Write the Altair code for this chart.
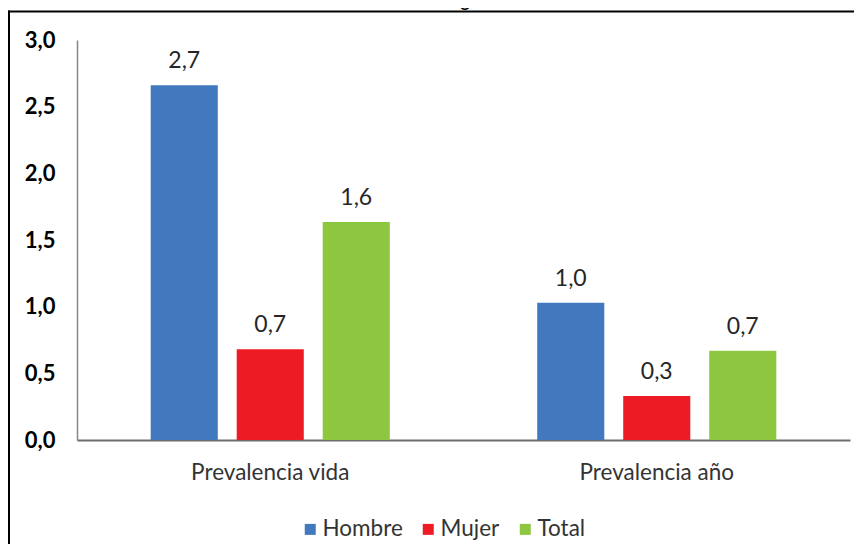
import altair as alt
import pandas as pd

categories = ["Prevalencia vida", "Prevalencia año"]
series = ["Hombre", "Mujer", "Total"]
hombre = [2.66, 1.03]
mujer = [0.68, 0.33]
total = [1.635, 0.67]
colors = ["#4178BE", "#ED1C24", "#8DC63F"]
y_ticks = [0.0, 0.5, 1.0, 1.5, 2.0, 2.5, 3.0]
title_text = "sintéticos, según sexo"

rows = []
for i, c in enumerate(categories):
    for s, vals in zip(series, [hombre, mujer, total]):
        v = vals[i]
        rows.append({"categoria": c, "sexo": s, "valor": v,
                     "etiqueta": f"{v:.1f}".replace(".", ",")})
df = pd.DataFrame(rows)

W, H = 773, 400
PAD = {"left": 69, "top": 32, "right": 4, "bottom": 104}
FONT = "Lato"

base = alt.Chart(df).encode(
    x=alt.X("categoria:N", sort=categories, title=None,
            scale=alt.Scale(paddingInner=0, paddingOuter=0),
            axis=alt.Axis(labelAngle=0, ticks=False, tickSize=0, labelPadding=21,
                          labelFontSize=22.5, labelFont=FONT, labelColor="#333333",
                          domainColor="#6d6d6d", domainWidth=2, grid=False)),
    xOffset=alt.XOffset("sexo:N", sort=series,
                        scale=alt.Scale(paddingInner=0.22, paddingOuter=0.857)),
    y=alt.Y("valor:Q", title=None,
            scale=alt.Scale(domain=[0, 3], nice=False, zero=True),
            axis=alt.Axis(values=y_ticks, ticks=False, tickSize=0, labelPadding=22,
                          labelExpr="replace(format(datum.value, '.1f'), '.', ',')",
                          labelFontSize=22, labelFontWeight="bold", labelFont=FONT,
                          labelColor="#000000", domainColor="#868686",
                          domainWidth=1.5, grid=False)),
)

bars = base.mark_bar().encode(
    color=alt.Color("sexo:N", sort=series,
                    scale=alt.Scale(domain=series, range=colors),
                    legend=alt.Legend(title=None, orient="none", direction="horizontal",
                                      legendX=222, legendY=478, padding=0,
                                      symbolType="square", symbolSize=121,
                                      symbolStrokeWidth=0, labelOffset=1,
                                      columnPadding=14, labelFontSize=22.5,
                                      labelFont=FONT, labelColor="#333333"))
)

labels = base.mark_text(dy=-17, baseline="alphabetic", fontSize=23, font=FONT,
                        color="#262626").encode(text="etiqueta:N")

one = pd.DataFrame({"t": [title_text]})
frame_left = alt.Chart(one).mark_rule(color="#000000", strokeWidth=2).encode(
    x=alt.value(-68), y=alt.value(-29.5), y2=alt.value(H + PAD["bottom"])
)
edge_cover = alt.Chart(one).mark_rule(color="#ffffff", strokeWidth=4).encode(
    x=alt.value(W + PAD["right"] - 1), y=alt.value(-26.5), y2=alt.value(H + PAD["bottom"])
)
frame_top = alt.Chart(one).mark_rule(color="#000000", strokeWidth=2).encode(
    x=alt.value(-69), x2=alt.value(W + PAD["right"]), y=alt.value(-28.5)
)
title = alt.Chart(one).mark_text(fontSize=22, font="Liberation Sans", color="#000000",
                                 baseline="alphabetic", align="center").encode(
    x=alt.value(363), y=alt.value(-35), text="t:N"
)

chart = alt.layer(bars, labels, frame_left, edge_cover, frame_top, title).properties(
    width=W, height=H,
    autosize="none",
    padding=PAD,
).configure_view(stroke=None)

chart.save("out.html", embed_options={"renderer": "svg", "actions": False})
